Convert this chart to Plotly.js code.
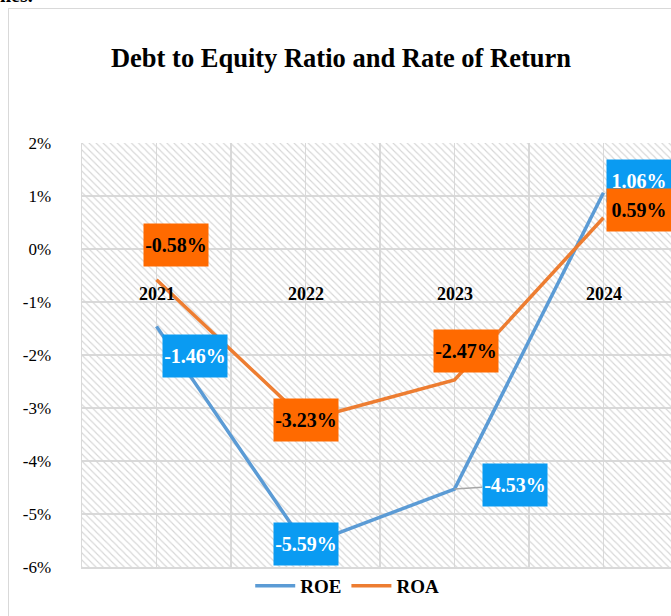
<!DOCTYPE html>
<html>
<head>
<meta charset="utf-8">
<script src="https://cdn.plot.ly/plotly-3.0.1.min.js"></script>
<style>
  html, body { margin: 0; padding: 0; width: 671px; height: 616px; overflow: hidden; background: #fff; }
  #frame { position: absolute; left: 8px; top: 8px; width: 720px; height: 700px; border: 1.5px solid #d9d9d9; box-sizing: border-box; }
  #frag { position: absolute; left: 0px; top: -16px; font-family: "Liberation Serif", serif; font-weight: bold; font-size: 20px; color: #000; }
  #chart { position: absolute; left: 0; top: 0; width: 700px; height: 616px; }
</style>
</head>
<body>
<div id="frag">nes.</div>
<div id="frame"></div>
<div id="chart"></div>
<script>
// ---- data ----
const years = ['2021', '2022', '2023', '2024'];
const roe = [-1.46, -5.59, -4.53, 1.06];
const roa = [-0.58, -3.23, -2.47, 0.59];
const yTickVals = [2, 1, 0, -1, -2, -3, -4, -5, -6];
const yTickText = ['2%', '1%', '0%', '-1%', '-2%', '-3%', '-4%', '-5%', '-6%'];

const idx = years.map((_, i) => i);
const yRange = [-6, 2];
const xRange = [-0.5, years.length - 0.5];
const serif = 'Liberation Serif, Times New Roman, serif';
const fmt = v => v.toFixed(2) + '%';

// hatched plot background, derived from the axis ranges
const hatch = {
  x: [xRange[0], xRange[1], xRange[1], xRange[0], xRange[0]],
  y: [yRange[0], yRange[0], yRange[1], yRange[1], yRange[0]],
  type: 'scatter', mode: 'lines', fill: 'toself',
  line: { width: 0 }, fillcolor: 'rgba(0,0,0,0)',
  fillpattern: { shape: '\\', fgcolor: '#d6d6d6', bgcolor: 'rgba(0,0,0,0)', size: 5, solidity: 0.22 },
  hoverinfo: 'skip', showlegend: false
};

const traces = [
  hatch,
  { x: idx, y: roe, name: 'ROE', type: 'scatter', mode: 'lines',
    line: { color: '#5B9BD5', width: 3.5 } },
  { x: idx, y: roa, name: 'ROA', type: 'scatter', mode: 'lines',
    line: { color: '#ED7D31', width: 3.5 } }
];

// label placement (pixel offsets from each point)
const roeOff = [[38, -30], [0, 1], [60, 4], [35, 12]];
const roaOff = [[19, 35], [0, 0], [11, 29], [35, 8]];

const annotations = [];
years.forEach((yr, i) => {
  annotations.push({
    x: i, y: 0, xref: 'x', yref: 'y', text: '<b>' + yr + '</b>', showarrow: false,
    yshift: -45, font: { family: serif, size: 18, color: '#000' }
  });
});
roe.forEach((v, i) => {
  const a = {
    x: i, y: v, xref: 'x', yref: 'y', text: '<b>' + fmt(v) + '</b>',
    font: { family: serif, size: 20, color: '#ffffff' },
    bgcolor: '#0A9BF2', width: 62, height: 40, borderpad: 1
  };
  if (i === 2) {
    a.showarrow = true; a.ax = roeOff[i][0]; a.ay = -roeOff[i][1];
    a.arrowhead = 0; a.arrowcolor = '#a6a6a6'; a.arrowwidth = 1.5;
  } else {
    a.showarrow = false; a.xshift = roeOff[i][0]; a.yshift = roeOff[i][1];
  }
  annotations.push(a);
});
roa.forEach((v, i) => {
  annotations.push({
    x: i, y: v, xref: 'x', yref: 'y', text: '<b>' + fmt(v) + '</b>', showarrow: false,
    xshift: roaOff[i][0], yshift: roaOff[i][1],
    font: { family: serif, size: 20, color: '#000000' },
    bgcolor: '#FF6A00', width: 62, height: 40, borderpad: 1
  });
});

const xTicks = [];
for (let t = xRange[0]; t <= xRange[1] + 1e-9; t += 0.5) xTicks.push(t);

const layout = {
  width: 700, height: 616,
  margin: { l: 82, r: 22, t: 143, b: 48 },
  paper_bgcolor: 'rgba(0,0,0,0)', plot_bgcolor: 'rgba(0,0,0,0)',
  title: {
    text: '<b>Debt to Equity Ratio and Rate of Return</b>',
    font: { family: serif, size: 26.5, color: '#000' },
    xref: 'container', yref: 'container', x: 341 / 700, xanchor: 'center',
    y: 1 - 58 / 616, yanchor: 'middle'
  },
  xaxis: {
    range: xRange, tickvals: xTicks, showticklabels: false, ticks: '',
    showgrid: true, gridcolor: '#d9d9d9', gridwidth: 1.5, zeroline: false,
    showline: true, linecolor: '#d9d9d9', linewidth: 1.5, fixedrange: true
  },
  yaxis: {
    range: yRange, tickvals: yTickVals, ticktext: yTickText, ticks: '',
    tickfont: { family: serif, size: 17, color: '#000' }, ticklabelstandoff: 26,
    showgrid: true, gridcolor: '#d9d9d9', gridwidth: 1.5, zeroline: false,
    showline: true, linecolor: '#d9d9d9', linewidth: 1.5, fixedrange: true
  },
  legend: {
    orientation: 'h', x: 0.445, xanchor: 'center', y: -0.042, yanchor: 'middle',
    font: { family: serif, size: 19, color: '#000', weight: 'bold' },
    bgcolor: 'rgba(0,0,0,0)', itemwidth: 40
  },
  annotations: annotations,
  showlegend: true
};

Plotly.newPlot('chart', traces, layout, { displayModeBar: false, staticPlot: true });
</script>
</body>
</html>
